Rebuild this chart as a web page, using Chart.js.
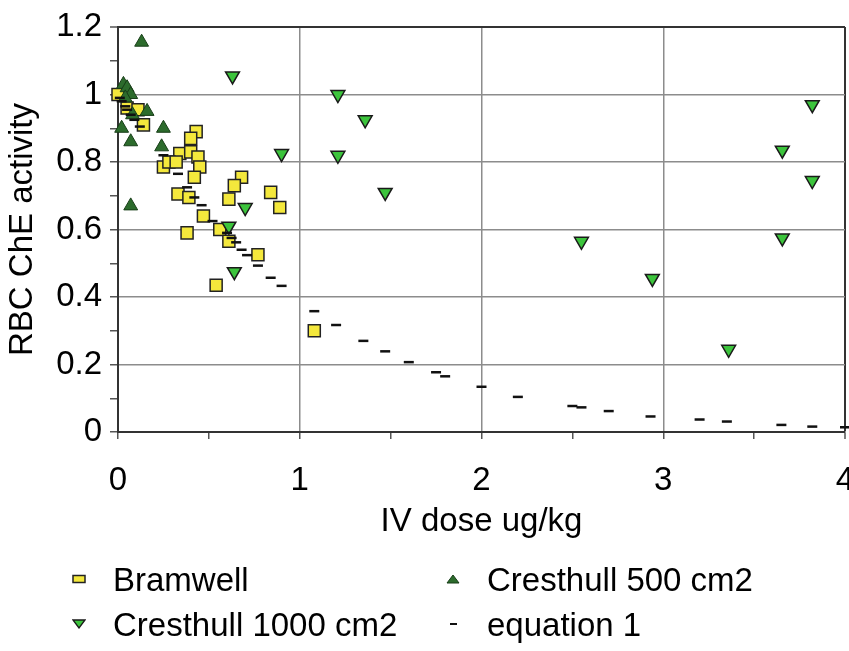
<!DOCTYPE html>
<html>
<head>
<meta charset="utf-8">
<title>RBC ChE activity vs IV dose</title>
<script src="https://cdn.jsdelivr.net/npm/chart.js@4.4.1/dist/chart.umd.min.js"></script>
<style>
  html, body { margin: 0; padding: 0; background: #fff; overflow: hidden; }
  #wrap { position: relative; width: 849px; height: 651px; overflow: hidden; }
  #doseChart { position: absolute; left: 0; top: 0; }
  #legend {
    position: absolute; left: 0; top: 0; width: 849px; height: 651px;
    pointer-events: none;
    font-family: 'Liberation Sans', Arial, sans-serif; font-size: 33px; color: #000;
  }
  #legend svg { position: absolute; }
  #legend span { position: absolute; line-height: 33px; white-space: nowrap; }
</style>
</head>
<body>
<div id="wrap">
  <!-- a few px wider than the window: the last x label gets cut at the edge like in the original -->
  <canvas id="doseChart" width="855" height="651"></canvas>
  <div id="legend"></div>
</div>
<script>
// values
const bramwellX = [0.00, 0.05, 0.11, 0.14, 0.43, 0.40, 0.34, 0.40, 0.44, 0.25, 0.28, 0.32, 0.45, 0.42,
                   0.68, 0.64, 0.84, 0.33, 0.39, 0.61, 0.89, 0.47, 0.56, 0.38, 0.61, 0.77, 0.54, 1.08];
const bramwellY = [1.00, 0.96, 0.955, 0.91, 0.89, 0.87, 0.825, 0.83, 0.815, 0.785, 0.80, 0.80, 0.785, 0.755,
                   0.755, 0.73, 0.71, 0.705, 0.695, 0.69, 0.665, 0.64, 0.60, 0.59, 0.565, 0.525, 0.435, 0.30];

const c500X = [0.13, 0.03, 0.05, 0.07, 0.04, 0.16, 0.08, 0.02, 0.25, 0.07, 0.24, 0.07];
const c500Y = [1.155, 1.03, 1.02, 1.00, 0.99, 0.95, 0.94, 0.90, 0.90, 0.86, 0.845, 0.67];

const c1000X = [0.63, 0.90, 0.70, 0.61, 0.64, 1.21, 1.36, 1.21, 1.47, 2.55, 2.94, 3.36, 3.655, 3.655, 3.82, 3.82];
const c1000Y = [1.055, 0.825, 0.665, 0.61, 0.475, 1.00, 0.925, 0.82, 0.71, 0.565, 0.455, 0.245, 0.835, 0.575, 0.97, 0.745];

const eqX = [0.01, 0.02, 0.04, 0.05, 0.07, 0.09, 0.12, 0.25, 0.33, 0.38, 0.42, 0.46, 0.52, 0.60, 0.625, 0.65,
             0.68, 0.71, 0.77, 0.84, 0.90, 1.08, 1.20, 1.35, 1.47, 1.60, 1.75, 1.80, 2.00, 2.20, 2.50, 2.55,
             2.70, 2.93, 3.20, 3.35, 3.65, 3.82, 4.00];
const eqY = [0.99, 0.98, 0.965, 0.955, 0.94, 0.925, 0.905, 0.82, 0.765, 0.725, 0.695, 0.672, 0.625, 0.59, 0.575, 0.562,
             0.54, 0.524, 0.493, 0.457, 0.433, 0.358, 0.317, 0.27, 0.239, 0.207, 0.177, 0.165, 0.134, 0.104, 0.077, 0.073,
             0.062, 0.046, 0.037, 0.031, 0.021, 0.016, 0.014];

const seriesNames = ['Bramwell', 'Cresthull 500 cm2', 'Cresthull 1000 cm2', 'equation 1'];
const xLabelTicks = [0, 1, 2, 3, 4];
const yLabelTicks = [0, 0.2, 0.4, 0.6, 0.8, 1, 1.2];

const toPoints = (xs, ys) => xs.map((x, i) => ({ x: x, y: ys[i] }));
const isLabelTick = (list, v) => list.some(t => Math.abs(t - v) < 1e-6);

const FONT = "'Liberation Sans', Arial, sans-serif";
const GRID = '#8c8c8c';
const FRAME = '#333333';

Chart.defaults.font.family = FONT;
Chart.defaults.color = '#000';

const chart = new Chart(document.getElementById('doseChart'), {
  type: 'scatter',
  data: {
    datasets: [
      {
        label: seriesNames[0],
        data: toPoints(bramwellX, bramwellY),
        pointStyle: 'rect',
        pointRadius: 8.5,
        pointBackgroundColor: '#f4e83c',
        pointBorderColor: '#222',
        pointBorderWidth: 1.5,
        order: 4,
        clip: false
      },
      {
        label: seriesNames[1],
        data: toPoints(c500X, c500Y),
        pointStyle: 'triangle',
        pointRadius: 8,
        pointBackgroundColor: '#2c6b2c',
        pointBorderColor: '#173d17',
        pointBorderWidth: 1,
        order: 3,
        clip: false
      },
      {
        label: seriesNames[2],
        data: toPoints(c1000X, c1000Y),
        pointStyle: 'triangle',
        pointRotation: 180,
        pointRadius: 8,
        pointBackgroundColor: '#3cc43c',
        pointBorderColor: '#1a1a1a',
        pointBorderWidth: 1.5,
        order: 2,
        clip: false
      },
      {
        label: seriesNames[3],
        data: toPoints(eqX, eqY),
        pointStyle: 'line',
        pointRadius: 5,
        pointBorderColor: '#111',
        pointBorderWidth: 2.5,
        order: 1,
        clip: false
      }
    ]
  },
  options: {
    responsive: false,
    animation: false,
    events: [],
    layout: { padding: { top: 27, right: 0, bottom: 106, left: 0 } },
    plugins: {
      legend: { display: false },
      tooltip: { enabled: false }
    },
    scales: {
      x: {
        type: 'linear',
        min: 0,
        max: 4,
        ticks: {
          stepSize: 0.5,
          autoSkip: false,
          maxRotation: 0,
          padding: 22,
          font: { size: 33 },
          color: '#000',
          callback: v => isLabelTick(xLabelTicks, v) ? String(v) : ''
        },
        grid: {
          color: ctx => {
            const v = ctx.tick.value;
            if (v === 4) return FRAME;
            return isLabelTick(xLabelTicks, v) ? GRID : 'rgba(0,0,0,0)';
          },
          lineWidth: ctx => (ctx.tick.value === 4 ? 2 : 1.5),
          tickColor: '#555',
          tickWidth: 1.5,
          tickLength: 7
        },
        border: { color: FRAME, width: 2 },
        title: {
          display: true,
          text: 'IV dose ug/kg',
          font: { size: 33 },
          color: '#000',
          padding: { top: 0, bottom: 3 }
        },
        afterFit: s => { s.height = 113; s.paddingLeft = 0; s.paddingRight = 0; }
      },
      y: {
        type: 'linear',
        min: 0,
        max: 1.2,
        ticks: {
          stepSize: 0.1,
          autoSkip: false,
          padding: 8,
          font: { size: 33 },
          color: '#000',
          callback: v => isLabelTick(yLabelTicks, v) ? String(Math.round(v * 10) / 10) : ''
        },
        grid: {
          color: ctx => {
            const v = ctx.tick.value;
            if (Math.abs(v - 1.2) < 1e-6) return FRAME;
            return isLabelTick(yLabelTicks, v) ? GRID : 'rgba(0,0,0,0)';
          },
          lineWidth: ctx => (Math.abs(ctx.tick.value - 1.2) < 1e-6 ? 2 : 1.5),
          tickColor: '#555',
          tickWidth: 1.5,
          tickLength: 8
        },
        border: { color: FRAME, width: 2 },
        title: {
          display: true,
          text: 'RBC ChE activity',
          font: { size: 33 },
          color: '#000',
          padding: { top: 3, bottom: 0 }
        },
        afterFit: s => { s.width = 118; s.paddingTop = 0; s.paddingBottom = 0; }
      }
    }
  }
});

// legend below the plot, two columns like the original
const legendMarkers = [
  '<svg width="14" height="10"><rect x="1" y="1.5" width="12" height="7" fill="#f4e83c" stroke="#222" stroke-width="1.5"/></svg>',
  '<svg width="14" height="10"><polygon points="1,9 7,1 13,9" fill="#2c6b2c" stroke="#173d17" stroke-width="1"/></svg>',
  '<svg width="14" height="10"><polygon points="1,1 13,1 7,9" fill="#3cc43c" stroke="#1a1a1a" stroke-width="1.3"/></svg>',
  '<svg width="14" height="10"><line x1="4" y1="5" x2="11" y2="5" stroke="#111" stroke-width="2"/></svg>'
];
const legendCols = [72, 446];
const legendTextCols = [113, 487];
const legendBaselines = [591, 636];

const legendEl = document.getElementById('legend');
chart.data.datasets.forEach((ds, i) => {
  const col = i % 2;
  const row = Math.floor(i / 2);
  const base = legendBaselines[row];
  const mk = document.createElement('div');
  mk.innerHTML = legendMarkers[i];
  const svg = mk.firstChild;
  svg.style.left = legendCols[col] + 'px';
  svg.style.top = (base - 12 - 5) + 'px';
  legendEl.appendChild(svg);

  const tx = document.createElement('span');
  tx.textContent = ds.label;
  tx.style.left = legendTextCols[col] + 'px';
  tx.style.top = (base - 28) + 'px';
  legendEl.appendChild(tx);
});
</script>
</body>
</html>
